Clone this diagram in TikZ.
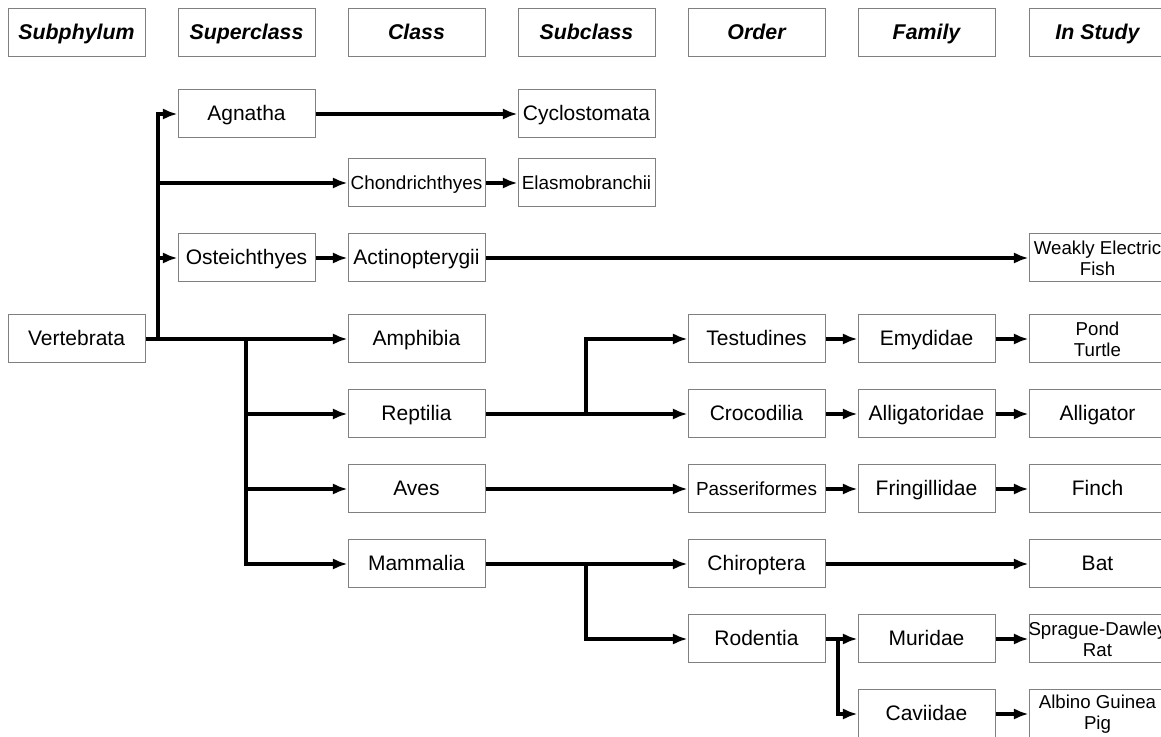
\documentclass[tikz,border=0pt]{standalone}
\usepackage{fontspec}
\setmainfont{Liberation Sans}
\usetikzlibrary{arrows.meta}
\newcommand{\pxUnit}[0]{0.75pt}

\begin{document}
\begin{tikzpicture}[x=\pxUnit, y=-\pxUnit]
  \tikzset{
    taxbox/.style={draw=black!50, line width=0.75pt, minimum width=102.75pt,
      minimum height=36pt, inner sep=1pt, align=center},
    taxon/.style={taxbox, text height=12pt, text depth=1.6pt,
      font=\fontsize{15.75}{18}\selectfont},
    smalltaxon/.style={taxon, font=\fontsize{14.2}{15.8}\selectfont},
    pairtaxon/.style={taxbox, font=\fontsize{14}{15.6}\selectfont},
    rank/.style={taxon, font=\fontsize{16}{18}\selectfont\bfseries\itshape},
    link/.style={line width=2.6pt, -{Latex[length=11pt,width=8.5pt]}}
  }
  \clip (0,0) rectangle (1161,737);
  % rank headers
  \node[rank] (hSubphylum) at (76.5,33) {Subphylum};
  \node[rank] (hSuperclass) at (246.5,33) {Superclass};
  \node[rank] (hClass) at (416.5,33) {Class};
  \node[rank] (hSubclass) at (586.5,33) {Subclass};
  \node[rank] (hOrder) at (756.5,33) {Order};
  \node[rank] (hFamily) at (926.5,33) {Family};
  \node[rank] (hStudy) at (1097.5,33) {In Study};
  % taxa
  \node[taxon] (Vertebrata) at (76.5,339) {Vertebrata};
  \node[taxon] (Agnatha) at (246.5,114) {Agnatha};
  \node[taxon] (Osteichthyes) at (246.5,258) {Osteichthyes};
  \node[smalltaxon] (Chondrichthyes) at (416.5,183) {Chondrichthyes};
  \node[taxon] (Actinopterygii) at (416.5,258) {Actinopterygii};
  \node[taxon] (Amphibia) at (416.5,339) {Amphibia};
  \node[taxon] (Reptilia) at (416.5,414) {Reptilia};
  \node[taxon] (Aves) at (416.5,489) {Aves};
  \node[taxon] (Mammalia) at (416.5,564) {Mammalia};
  \node[taxon] (Cyclostomata) at (586.5,114) {Cyclostomata};
  \node[smalltaxon] (Elasmobranchii) at (586.5,183) {Elasmobranchii};
  \node[taxon] (Testudines) at (756.5,339) {Testudines};
  \node[taxon] (Crocodilia) at (756.5,414) {Crocodilia};
  \node[smalltaxon] (Passeriformes) at (756.5,489) {Passeriformes};
  \node[taxon] (Chiroptera) at (756.5,564) {Chiroptera};
  \node[taxon] (Rodentia) at (756.5,639) {Rodentia};
  \node[taxon] (Emydidae) at (926.5,339) {Emydidae};
  \node[taxon] (Alligatoridae) at (926.5,414) {Alligatoridae};
  \node[taxon] (Fringillidae) at (926.5,489) {Fringillidae};
  \node[taxon] (Muridae) at (926.5,639) {Muridae};
  \node[taxon] (Caviidae) at (926.5,714) {Caviidae};
  \node[pairtaxon] (Fish) at (1097.5,258) {Weakly Electric\\Fish};
  \node[pairtaxon] (Turtle) at (1097.5,339) {Pond\\Turtle};
  \node[taxon] (Alligator) at (1097.5,414) {Alligator};
  \node[taxon] (Finch) at (1097.5,489) {Finch};
  \node[taxon] (Bat) at (1097.5,564) {Bat};
  \node[pairtaxon] (Rat) at (1097.5,639) {\makebox[100pt]{Sprague-Dawley}\\Rat};
  \node[pairtaxon] (GuineaPig) at (1097.5,714) {Albino Guinea\\Pig};
  % branch points
  \coordinate (fishSplit) at (158,339);
  \coordinate (tetraSplit) at (246,339);
  \coordinate (reptSplit) at (586,414);
  \coordinate (mammSplit) at (586,564);
  \coordinate (rodSplit) at (838,639);
  % connectors
  \draw[link] (Vertebrata.east) -- (Amphibia.west);
  \draw[link] (fishSplit) |- (Agnatha.west);
  \draw[link] (fishSplit) |- (Chondrichthyes.west);
  \draw[link] (fishSplit) |- (Osteichthyes.west);
  \draw[link] (tetraSplit) |- (Reptilia.west);
  \draw[link] (tetraSplit) |- (Aves.west);
  \draw[link] (tetraSplit) |- (Mammalia.west);
  \draw[link] (Agnatha.east) -- (Cyclostomata.west);
  \draw[link] (Chondrichthyes.east) -- (Elasmobranchii.west);
  \draw[link] (Osteichthyes.east) -- (Actinopterygii.west);
  \draw[link] (Actinopterygii.east) -- (Fish.west);
  \draw[link] (Reptilia.east) -- (Crocodilia.west);
  \draw[link] (reptSplit) |- (Testudines.west);
  \draw[link] (Testudines.east) -- (Emydidae.west);
  \draw[link] (Emydidae.east) -- (Turtle.west);
  \draw[link] (Crocodilia.east) -- (Alligatoridae.west);
  \draw[link] (Alligatoridae.east) -- (Alligator.west);
  \draw[link] (Aves.east) -- (Passeriformes.west);
  \draw[link] (Passeriformes.east) -- (Fringillidae.west);
  \draw[link] (Fringillidae.east) -- (Finch.west);
  \draw[link] (Mammalia.east) -- (Chiroptera.west);
  \draw[link] (Chiroptera.east) -- (Bat.west);
  \draw[link] (mammSplit) |- (Rodentia.west);
  \draw[link] (Rodentia.east) -- (Muridae.west);
  \draw[link] (rodSplit) |- (Caviidae.west);
  \draw[link] (Muridae.east) -- (Rat.west);
  \draw[link] (Caviidae.east) -- (GuineaPig.west);
\end{tikzpicture}
\end{document}
